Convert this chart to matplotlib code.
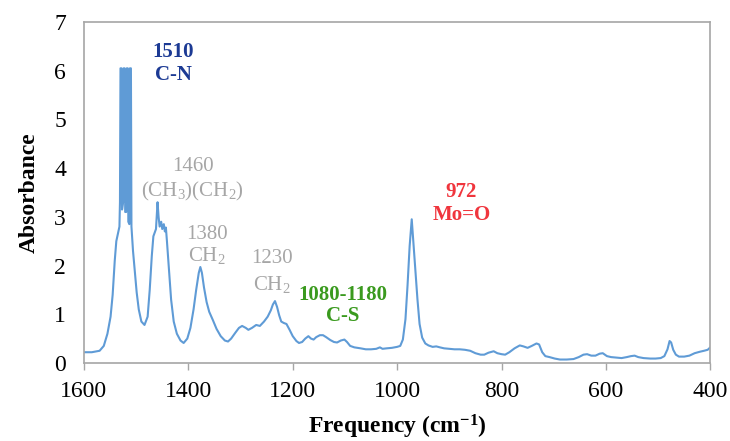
import matplotlib
matplotlib.use("Agg")
import matplotlib.pyplot as plt

# IR spectrum (wavenumber in cm-1, absorbance)
wavenumber = [
    1600, 1585, 1570, 1562, 1555, 1549, 1545, 1541, 1538, 1535, 1532, 1531,
    1530, 1528, 1527, 1525, 1524, 1522, 1521, 1519, 1518, 1516, 1515, 1513,
    1512, 1510, 1509, 1506, 1502, 1499, 1495, 1490, 1484, 1478, 1474, 1470,
    1467, 1462, 1459, 1457, 1455, 1452, 1450, 1447, 1445, 1443, 1441, 1437,
    1433, 1428, 1422, 1415, 1409, 1402, 1396, 1390, 1385, 1380, 1377, 1374,
    1370, 1365, 1360, 1353, 1346, 1338, 1330, 1324, 1318, 1310, 1303, 1297,
    1290, 1285, 1278, 1270, 1263, 1255, 1248, 1242, 1238, 1234, 1230, 1226,
    1222, 1217, 1212, 1206, 1200, 1193, 1188, 1182, 1176, 1170, 1165, 1160,
    1155, 1148, 1142, 1136, 1128, 1121, 1115, 1108, 1101, 1096, 1090, 1082,
    1070, 1060, 1050, 1040, 1033, 1028, 1020, 1010, 1000, 994, 989, 984,
    980, 976, 972, 969, 965, 961, 957, 952, 946, 940, 932, 925,
    918, 910, 900, 890, 880, 870, 860, 850, 840, 833, 825, 815,
    808, 800, 793, 785, 775, 765, 758, 750, 742, 733, 728, 722,
    716, 708, 698, 688, 675, 662, 652, 643, 636, 628, 620, 612,
    606, 598, 590, 580, 570, 560, 552, 545, 538, 528, 515, 505,
    495, 488, 482, 478, 475, 471, 466, 460, 450, 440, 430, 420,
    412, 405, 400,
]
absorbance = [
    0.22, 0.22, 0.25, 0.35, 0.6, 0.95, 1.4, 2.1, 2.5, 2.65, 2.8, 3.3,
    6.05, 6.05, 3.15, 3.3, 6.05, 6.05, 3.1, 3.1, 6.05, 6.05, 2.9, 2.85,
    6.05, 6.05, 2.8, 2.3, 1.8, 1.45, 1.1, 0.85, 0.78, 0.95, 1.5, 2.2,
    2.6, 2.75, 3.3, 3.0, 2.8, 2.9, 2.75, 2.85, 2.7, 2.78, 2.5, 1.9,
    1.3, 0.85, 0.6, 0.46, 0.41, 0.5, 0.72, 1.1, 1.5, 1.85, 1.97, 1.85,
    1.55, 1.25, 1.05, 0.88, 0.7, 0.55, 0.46, 0.44, 0.5, 0.62, 0.72, 0.76,
    0.72, 0.68, 0.72, 0.78, 0.76, 0.85, 0.95, 1.08, 1.2, 1.27, 1.15, 0.98,
    0.85, 0.82, 0.8, 0.68, 0.55, 0.45, 0.41, 0.43, 0.5, 0.55, 0.5, 0.48,
    0.53, 0.57, 0.57, 0.53, 0.47, 0.43, 0.42, 0.46, 0.48, 0.43, 0.35, 0.32,
    0.3, 0.28, 0.28, 0.29, 0.32, 0.29, 0.3, 0.31, 0.33, 0.35, 0.48, 0.9,
    1.6, 2.4, 2.95, 2.5, 1.9, 1.3, 0.8, 0.52, 0.4, 0.36, 0.33, 0.34,
    0.32, 0.3, 0.29, 0.28, 0.28, 0.27, 0.25, 0.2, 0.17, 0.17, 0.21, 0.24,
    0.2, 0.18, 0.17, 0.22, 0.3, 0.36, 0.34, 0.31, 0.35, 0.4, 0.38, 0.22,
    0.14, 0.12, 0.09, 0.07, 0.07, 0.08, 0.12, 0.17, 0.18, 0.15, 0.15, 0.19,
    0.2, 0.14, 0.12, 0.11, 0.1, 0.12, 0.14, 0.15, 0.12, 0.1, 0.09, 0.09,
    0.1, 0.14, 0.28, 0.45, 0.42, 0.27, 0.17, 0.13, 0.13, 0.15, 0.2, 0.23,
    0.25, 0.27, 0.32,
]

x_ticks = [1600, 1400, 1200, 1000, 800, 600, 400]
y_ticks = [0, 1, 2, 3, 4, 5, 6, 7]

plt.rcParams['font.family'] = ['Liberation Serif', 'DejaVu Serif']
plt.rcParams['mathtext.fontset'] = 'custom'
plt.rcParams['mathtext.rm'] = 'Liberation Serif'
plt.rcParams['mathtext.it'] = 'Liberation Serif:italic'
plt.rcParams['mathtext.bf'] = 'Liberation Serif:bold'

fig = plt.figure(figsize=(7.3, 4.41), dpi=100)
ax = fig.add_axes([0.115, 0.177, 0.858, 0.773])

ax.plot(wavenumber, absorbance, color='#5f9bd6', linewidth=1.5)

ax.set_xlim(1600, 400)
ax.set_ylim(0, 7)
ax.set_xticks(x_ticks)
ax.set_yticks(y_ticks)
ax.tick_params(axis='x', direction='out', length=5, width=1, color='#a6a6a6',
               labelsize=17, pad=8)
ax.tick_params(axis='y', length=0, labelsize=17, pad=13)

for side in ['left', 'right', 'top', 'bottom']:
    ax.spines[side].set_color('#a6a6a6')
    ax.spines[side].set_linewidth(1.2)

ax.set_xlabel(r'Frequency (cm$^{\mathbf{-1}}$)', fontsize=17, fontweight='bold', labelpad=8)
ax.set_ylabel('Absorbance', fontsize=17, fontweight='bold', labelpad=10)

# peak annotations
blue = '#1c3a94'
grey = '#a6a6a6'
green = '#3a9a1e'
red = '#f0353d'
kw = dict(ha='center', va='center', fontsize=15)

ax.text(1429, 6.39, '1510', color=blue, fontweight='bold', **kw)
ax.text(1429, 5.92, 'C-N', color=blue, fontweight='bold', **kw)

ax.text(1392, 4.03, '1460', color=grey, **kw)
ax.text(1392, 3.52, r'(CH$_3$)(CH$_2$)', color=grey, **kw)

ax.text(1365, 2.63, '1380', color=grey, **kw)
ax.text(1365, 2.2, r'CH$_2$', color=grey, **kw)

ax.text(1240, 2.15, '1230', color=grey, **kw)
ax.text(1240, 1.62, r'CH$_2$', color=grey, **kw)

ax.text(1104, 1.4, '1080-1180', color=green, fontweight='bold', **kw)
ax.text(1104, 0.97, 'C-S', color=green, fontweight='bold', **kw)

ax.text(878, 3.52, '972', color=red, fontweight='bold', **kw)
ax.text(876, 3.04, 'Mo=O', color=red, fontweight='bold', **kw)

fig.savefig('out.png', dpi=100)
